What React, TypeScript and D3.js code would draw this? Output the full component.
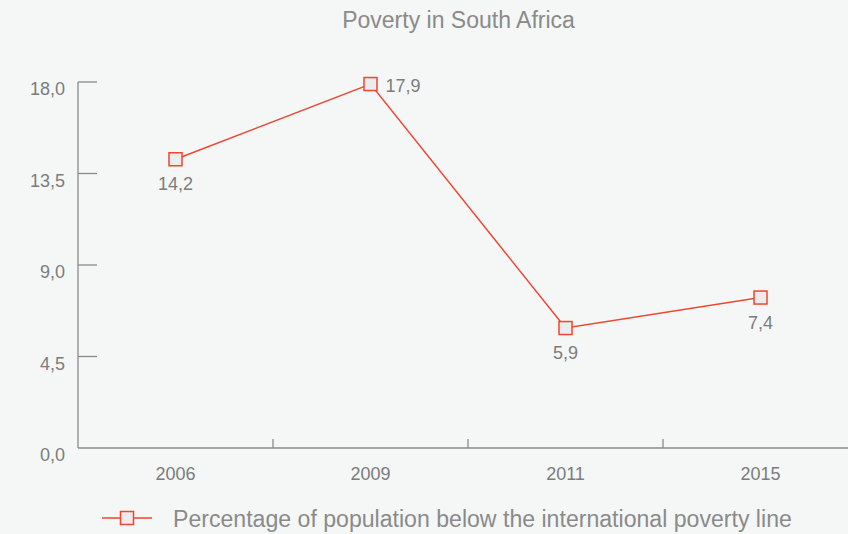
import React from "react";
import * as d3 from "d3";

const years = ["2006", "2009", "2011", "2015"];
const values = [14.2, 17.9, 5.9, 7.4];
const valueLabels = ["14,2", "17,9", "5,9", "7,4"];
const labelPlacement = ["below", "right", "below", "below"];
const yTicks = [0, 4.5, 9, 13.5, 18];
const yTickLabels = ["0,0", "4,5", "9,0", "13,5", "18,0"];
const title = "Poverty in South Africa";
const legendLabel = "Percentage of population below the international poverty line";

const W = 848;
const H = 534;
const RED = "#ef4630";
const GREY_TEXT = "#7c7c7c";
const AXIS = "#8a8a8a";
const FONT = "'Liberation Sans', Arial, sans-serif";

export default function App() {
  const x0 = 78;
  const band = 195;
  const x = d3.scaleBand<string>().domain(years).range([x0, x0 + band * years.length]).padding(0);
  const y = d3.scaleLinear().domain([0, 18]).range([448, 82]);
  const line = d3
    .line<number>()
    .x((_, i) => (x(years[i]) as number) + x.bandwidth() / 2)
    .y((d) => y(d));
  const ms = 13;

  return (
    <div style={{ position: "fixed", left: 0, top: 0, width: W, height: H }}>
      <svg width={W} height={H} style={{ display: "block", background: "#f5f7f6" }} fontFamily={FONT}>
        <text x={458.5} y={28} textAnchor="middle" fontSize={23} fill="#8a8a8a">
          {title}
        </text>
        {/* y axis */}
        <line x1={x0} x2={x0} y1={y(18)} y2={y(0)} stroke={AXIS} strokeWidth={1.3} />
        {yTicks.map((t, i) => (
          <g key={t}>
            {t > 0 && <line x1={x0} x2={x0 + 19} y1={y(t)} y2={y(t)} stroke={AXIS} strokeWidth={1.3} />}
            <text x={65} y={y(t) + 13} textAnchor="end" fontSize={18} fill={GREY_TEXT}>
              {yTickLabels[i]}
            </text>
          </g>
        ))}
        {/* x axis */}
        <line x1={x0} x2={W} y1={y(0)} y2={y(0)} stroke={AXIS} strokeWidth={1.3} />
        {years.slice(1).map((yr) => (
          <line key={yr} x1={x(yr)} x2={x(yr)} y1={y(0)} y2={y(0) - 9} stroke={AXIS} strokeWidth={1.3} />
        ))}
        {years.map((yr) => (
          <text key={yr} x={(x(yr) as number) + x.bandwidth() / 2} y={480} textAnchor="middle" fontSize={18} fill={GREY_TEXT}>
            {yr}
          </text>
        ))}
        {/* line */}
        <path d={line(values) || ""} fill="none" stroke={RED} strokeWidth={1.5} />
        {values.map((v, i) => {
          const cx = (x(years[i]) as number) + x.bandwidth() / 2;
          const cy = y(v);
          return (
            <g key={i}>
              <rect x={cx - ms / 2} y={cy - ms / 2} width={ms} height={ms} fill="#ececec" stroke={RED} strokeWidth={1.5} />
              {labelPlacement[i] === "below" ? (
                <text x={cx} y={cy + 31} textAnchor="middle" fontSize={18} fill={GREY_TEXT}>
                  {valueLabels[i]}
                </text>
              ) : (
                <text x={cx + 15} y={cy + 8} textAnchor="start" fontSize={18} fill={GREY_TEXT}>
                  {valueLabels[i]}
                </text>
              )}
            </g>
          );
        })}
        {/* legend */}
        <line x1={102} x2={152} y1={518} y2={518} stroke={RED} strokeWidth={1.5} />
        <rect x={127 - ms / 2} y={518 - ms / 2} width={ms} height={ms} fill="#ececec" stroke={RED} strokeWidth={1.5} />
        <text x={173} y={527} fontSize={23.1} fill="#8a8a8a">
          {legendLabel}
        </text>
      </svg>
    </div>
  );
}
